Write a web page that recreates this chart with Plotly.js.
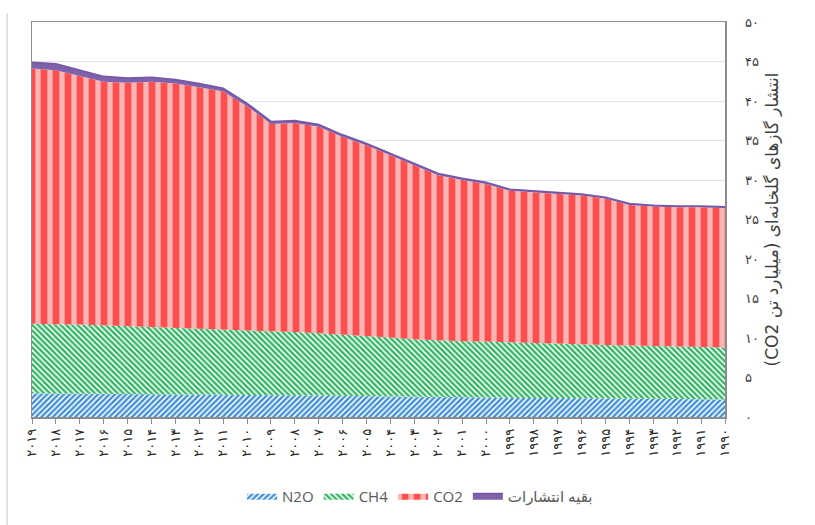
<!DOCTYPE html>
<html>
<head>
<meta charset="utf-8">
<script src="https://cdn.plot.ly/plotly-3.0.1.min.js"></script>
<style>html,body{margin:0;padding:0;background:#fff;}#chart{width:815px;height:525px;}</style>
</head>
<body>
<div id="chart"></div>
<script>
var years = [2019,2018,2017,2016,2015,2014,2013,2012,2011,2010,2009,2008,2007,2006,2005,2004,2003,2002,2001,2000,1999,1998,1997,1996,1995,1994,1993,1992,1991,1990];
var n2o = [3.0,3.0,2.95,2.95,2.9,2.9,2.85,2.85,2.8,2.8,2.75,2.75,2.7,2.7,2.65,2.6,2.55,2.55,2.5,2.5,2.45,2.4,2.4,2.35,2.35,2.3,2.3,2.25,2.25,2.2];
var ch4 = [8.8,8.75,8.75,8.65,8.6,8.5,8.5,8.4,8.3,8.2,8.1,8.0,7.9,7.75,7.6,7.45,7.3,7.15,7.1,7.05,7.0,6.95,6.9,6.85,6.75,6.7,6.65,6.65,6.6,6.6];
var co2 = [32.3,32.15,31.5,30.85,30.8,31.05,30.85,30.5,30.1,28.35,26.25,26.45,26.15,25.0,24.15,23.15,22.05,20.9,20.4,19.95,19.2,19.1,18.95,18.85,18.55,17.85,17.7,17.65,17.7,17.65];
var other = [0.8,0.8,0.7,0.65,0.6,0.55,0.5,0.45,0.4,0.35,0.3,0.3,0.25,0.25,0.2,0.2,0.2,0.2,0.2,0.2,0.15,0.15,0.15,0.15,0.15,0.15,0.15,0.15,0.15,0.15];
var yTicks = [0,5,10,15,20,25,30,35,40,45,50];
var seriesNames = ['N2O','CH4','CO2','بقیه انتشارات'];
var yTitle = 'انتشار گازهای گلخانه‌ای (میلیارد تن CO2)';

var faDigits = '۰۱۲۳۴۵۶۷۸۹';
function toFa(n){ return String(n).replace(/[0-9]/g, function(d){ return faDigits[+d]; }); }
var xTickText = years.map(toFa);
var yTickText = yTicks.map(toFa);
function rtl(s){ return '\u202B' + s + '\u202C'; }

var traces = [
  {x: years, y: n2o, name: seriesNames[0], type: 'scatter', mode: 'lines', stackgroup: 'one',
   line: {width: 0, color: '#3F8FD8'}, fillcolor: '#3F8FD8',
   fillpattern: {shape: '/', bgcolor: '#3F8FD8', fgcolor: '#FFFFFF', size: 4, solidity: 0.4}},
  {x: years, y: ch4, name: seriesNames[1], type: 'scatter', mode: 'lines', stackgroup: 'one',
   line: {width: 0, color: '#31B563'}, fillcolor: '#31B563',
   fillpattern: {shape: '\\', bgcolor: '#31B563', fgcolor: '#FFFFFF', size: 4, solidity: 0.4}},
  {x: years, y: co2, name: seriesNames[2], type: 'scatter', mode: 'lines', stackgroup: 'one',
   line: {width: 0, color: '#FF4E4E'}, fillcolor: '#FF4E4E',
   fillpattern: {shape: '|', bgcolor: '#FF4E4E', fgcolor: '#FFB3B3', size: 12, solidity: 0.45}},
  {x: years, y: other, name: seriesNames[3], type: 'scatter', mode: 'lines', stackgroup: 'one',
   line: {width: 1.8, color: '#7559A6'}, fillcolor: '#7E62AC'}
];

var layout = {
  width: 815, height: 525,
  margin: {l: 32, r: 90, t: 22, b: 108},
  paper_bgcolor: '#FFFFFF', plot_bgcolor: '#FFFFFF',
  font: {family: 'Liberation Sans, DejaVu Sans, sans-serif', color: '#404040'},
  showlegend: true,
  legend: {orientation: 'h', traceorder: 'normal', x: 0.56, xanchor: 'center', y: -0.2, yanchor: 'middle',
           itemwidth: 30,
           font: {size: 15, color: '#595959', family: 'Open Sans, DejaVu Sans, sans-serif'}},
  xaxis: {
    range: [2019, 1990], tickmode: 'array', tickvals: years, ticktext: xTickText,
    tickangle: -90, ticks: 'outside', ticklen: 5, tickcolor: '#8C8C8C',
    tickfont: {size: 13, color: '#262626', family: 'DejaVu Sans, sans-serif'},
    showgrid: false, zeroline: false, showline: true, mirror: true, linecolor: '#8C8C8C', linewidth: 1.5
  },
  yaxis: {
    side: 'right', range: [0, 50], tickmode: 'array', tickvals: yTicks, ticktext: yTickText,
    ticks: '', ticklabelstandoff: 16,
    tickfont: {size: 13, color: '#404040', family: 'DejaVu Sans, sans-serif'},
    showgrid: true, gridcolor: '#E3E3E3', gridwidth: 1, zeroline: false,
    showline: true, mirror: true, linecolor: '#8C8C8C', linewidth: 1.5,
    title: {text: rtl(yTitle), standoff: 8, font: {size: 17, color: '#404040', family: 'DejaVu Sans, sans-serif'}}
  },
  shapes: [
    {type: 'line', xref: 'paper', yref: 'paper', x0: -0.036, x1: -0.036, y0: 1.023, y1: -0.28,
     line: {color: '#DADADA', width: 1.5}}
  ]
};

Plotly.newPlot('chart', traces, layout, {displayModeBar: false, staticPlot: true});
</script>
</body>
</html>
